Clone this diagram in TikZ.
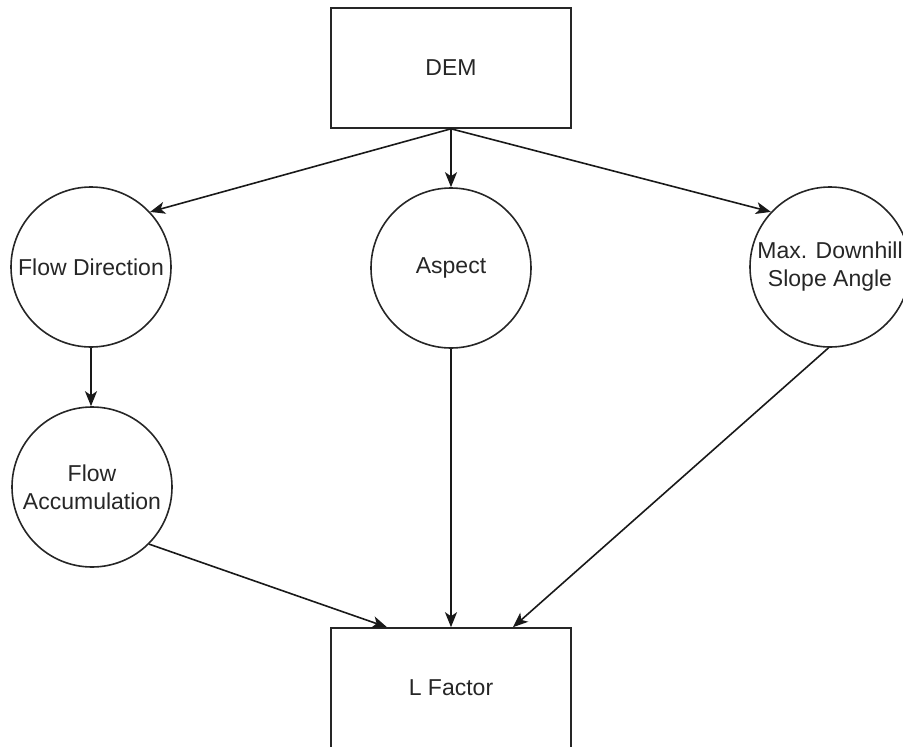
\documentclass[tikz,border=0pt]{standalone}
\usepackage{fontspec}
\setmainfont{Liberation Sans}
\usetikzlibrary{arrows.meta}
\begin{document}
\begin{tikzpicture}[x=1pt,y=-1pt,
  every node/.style={font=\fontsize{23}{28}\selectfont, text=black!85, align=center},
  boxnode/.style={draw=black!85, line width=1.6pt, minimum width=240pt, minimum height=120pt, inner sep=0pt},
  circnode/.style={draw=black!85, line width=1.6pt, circle, minimum size=160pt, inner sep=0pt},
  conn/.style={draw=black!90, line width=1.6pt, -{Stealth[length=15pt,width=12pt,inset=4pt]}}
]
\useasboundingbox (0,0) rectangle (903,747);
\node[boxnode] (dem) at (451,68) {DEM};
\node[circnode] (fd) at (91,267) {Flow Direction};
\node[circnode] (asp) at (451,268) {Aspect};
\node[circnode] (mdsa) at (830,267) {Max. Downhill\\Slope Angle};
\node[circnode] (fa) at (92,487) {Flow\\Accumulation};
\node[boxnode] (lf) at (451,688) {L Factor};
\draw[conn] (dem.south) -- (fd.43);
\draw[conn] (dem.south) -- (asp.north);
\draw[conn] (dem.south) -- (mdsa.137);
\draw[conn] (fd.south) -- (fd.south |- fa.north);
\draw[conn] (fa.-45) -- ([xshift=-64pt]lf.north);
\draw[conn] (asp.south) -- (lf.north);
\draw[conn] (mdsa.-91) -- ([xshift=62pt]lf.north);
\end{tikzpicture}
\end{document}
